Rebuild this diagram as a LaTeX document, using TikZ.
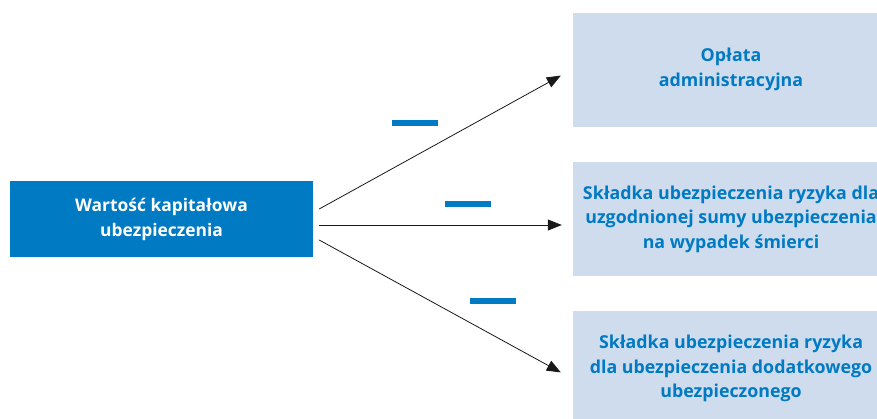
\documentclass[tikz,border=0pt]{standalone}
\usepackage{fontspec}
\setsansfont{Open Sans}
\usepackage{xcolor}
\usepackage{tikz}
\usetikzlibrary{
  arrows.meta,
  positioning
}
\definecolor{capblue}{RGB}{0,122,194}
\definecolor{paleblue}{RGB}{206,220,238}

\begin{document}
\begin{tikzpicture}[
  x=1pt,y=-1pt,
  src/.style={fill=capblue,text=white,minimum width=303pt,minimum height=76pt,
              align=center,font=\sffamily\bfseries\fontsize{17.4}{25}\selectfont},
  tgt/.style={fill=paleblue,text=capblue,minimum width=316pt,minimum height=114pt,
              align=center,font=\sffamily\bfseries\fontsize{17.8}{24.5}\selectfont},
  minus/.style={fill=capblue,minimum width=46pt,minimum height=6pt,inner sep=0pt},
  arr/.style={-{Triangle[length=14pt,width=11pt]},line width=0.8pt,draw=black!90},
  node distance=35pt,
]
\useasboundingbox (0,0) rectangle (877,418);

\node[src] (val) at (161.5,219) {Wartość kapitałowa\\ubezpieczenia};
\node[tgt] (risk) at (731,219) {Składka ubezpieczenia ryzyka dla\\uzgodnionej sumy ubezpieczenia\\na wypadek śmierci};
\node[tgt,above=of risk] (fee) {Opłata\\administracyjna};
\node[tgt,below=of risk] (extra) {Składka ubezpieczenia ryzyka\\dla ubezpieczenia dodatkowego\\ubezpieczonego};

% minus signs
\node[minus] (m1) at (415,123) {};
\node[minus] (m2) at (468,204) {};
\node[minus] (m3) at (493,301) {};

\coordinate (o1) at ([xshift=6pt,yshift=10pt]val.east);
\coordinate (o2) at ([xshift=6pt,yshift=-6pt]val.east);
\coordinate (o3) at ([xshift=6pt,yshift=-21pt]val.east);

\draw[arr] (o1) -- ([xshift=-12pt,yshift=-6pt]fee.west);
\draw[arr] (o2) -- ([xshift=-11pt,yshift=-6pt]risk.west);
\draw[arr] (o3) -- ([xshift=-12pt,yshift=-4pt]extra.west);
\end{tikzpicture}
\end{document}
